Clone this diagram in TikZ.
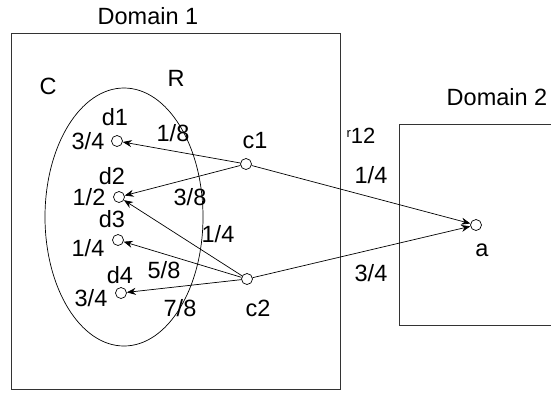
\documentclass[tikz,border=0pt]{standalone}
\usepackage{fontspec}
\setmainfont{Liberation Sans}
\usetikzlibrary{arrows.meta}
\begin{document}
\begin{tikzpicture}[x=1pt,y=-1pt,
  lbl/.style={inner sep=0pt,font=\fontsize{23.5}{26}\selectfont},
  pt/.style={circle,draw,fill=white,minimum size=11pt,inner sep=0pt,line width=0.7pt},
  arr/.style={line width=0.7pt,-{Stealth[length=9pt,width=7pt,inset=3pt]}},
  frame/.style={line width=0.8pt,draw=black!80}]
\useasboundingbox (0,0) rectangle (551,392);
% domain boxes
\draw[frame] (11,33) rectangle (340,389);
\draw[frame] (551,124) -- (399,124) -- (399,325) -- (551,325);
\node[lbl] (dom1) at (148,16) {Domain 1};
\node[lbl] (dom2) at (497,97) {Domain 2};
\node[lbl,font=\fontsize{22}{24}\selectfont] (r12) at (361,136) {\raisebox{6pt}{\fontsize{13}{14}\selectfont r}12};
\node[lbl] (C) at (48,86) {C};
\node[lbl] (R) at (176,78) {R};
% ellipse
\draw[line width=0.7pt] (124,217) ellipse [x radius=79, y radius=129];
% nodes
\node[pt] (d1) at (117,141) {};
\node[pt] (d2) at (119,197) {};
\node[pt] (d3) at (118,240) {};
\node[pt] (d4) at (121,293) {};
\node[pt] (c1) at (246,164) {};
\node[pt] (c2) at (247,279) {};
\node[pt] (a) at (476,225) {};
% arrows
\draw[arr] (c1) -- (d1);
\draw[arr] (c1) -- (d2);
\draw[arr] (c1) -- (a);
\draw[arr] (c2) -- (d2);
\draw[arr] (c2) -- (d3);
\draw[arr] (c2) -- (d4);
\draw[arr] (c2) -- (a);
% labels
\node[lbl] (ld1) at (115,117) {d1};
\node[lbl] (ld2) at (112,176) {d2};
\node[lbl] (ld3) at (112,219) {d3};
\node[lbl] (ld4) at (120,275) {d4};
\node[lbl] (lc1) at (255,141) {c1};
\node[lbl] (lc2) at (258,308) {c2};
\node[lbl] (la) at (482,250) {a};
\node[lbl] (w1) at (88,141) {3/4};
\node[lbl] (w2) at (89,197) {1/2};
\node[lbl] (w3) at (88,248) {1/4};
\node[lbl] (w4) at (91,298) {3/4};
\node[lbl] (e1) at (173,133) {1/8};
\node[lbl] (e2) at (190,197) {3/8};
\node[lbl] (e3) at (218,234) {1/4};
\node[lbl] (e4) at (164,270) {5/8};
\node[lbl] (e5) at (180,308) {7/8};
\node[lbl] (e6) at (371,175) {1/4};
\node[lbl] (e7) at (371,273) {3/4};
\end{tikzpicture}
\end{document}
